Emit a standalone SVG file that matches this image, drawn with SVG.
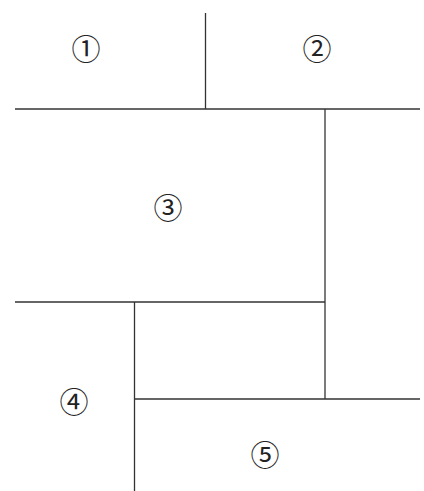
<svg xmlns="http://www.w3.org/2000/svg" width="424" height="491" viewBox="0 0 424 491">
<style>
.l{stroke:#333;stroke-width:1.3;fill:none}
.t{font-family:"Noto Sans CJK SC",serif;font-size:29px;fill:#222;text-anchor:middle;dominant-baseline:central}
</style>
<rect width="424" height="491" fill="#fff"/>
<g id="connectors">
<line class="l" x1="15" y1="109" x2="420" y2="109"/>
<line class="l" x1="205.5" y1="13" x2="205.5" y2="109"/>
<line class="l" x1="325" y1="109" x2="325" y2="399"/>
<line class="l" x1="15" y1="302" x2="325" y2="302"/>
<line class="l" x1="134.5" y1="302" x2="134.5" y2="491"/>
<line class="l" x1="134.5" y1="399" x2="420" y2="399"/>
</g>
<g id="n1"><text class="t" x="86" y="47">①</text></g>
<g id="n2"><text class="t" x="317" y="47">②</text></g>
<g id="n3"><text class="t" x="168" y="206">③</text></g>
<g id="n4"><text class="t" x="74" y="400">④</text></g>
<g id="n5"><text class="t" x="265" y="453">⑤</text></g>
</svg>
